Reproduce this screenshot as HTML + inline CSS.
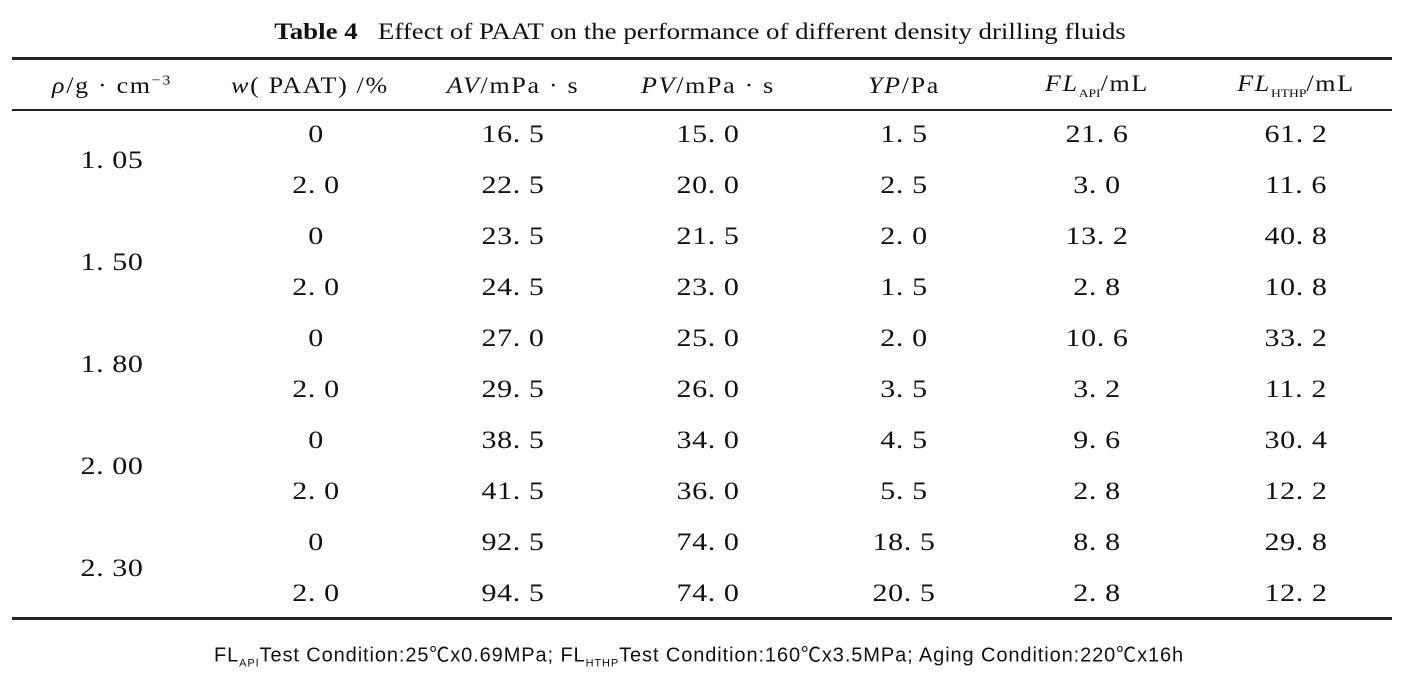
<!DOCTYPE html>
<html><head><meta charset="utf-8"><style>
body{margin:0;width:1414px;height:684px;background:#fff;position:relative;overflow:hidden;font-family:"Liberation Serif",serif;color:#111}
.t{position:absolute;transform:translate(-50%,-50%) scaleX(1.2);white-space:nowrap;font-size:25px;letter-spacing:0.5px}
.h{font-size:23px;letter-spacing:1.5px;transform:translate(-50%,-50%) scaleX(1.13)}
.l{position:absolute;left:12px;width:1380px;background:#222}
i{font-style:italic}
</style></head><body>
<div class="t" style="left:700px;top:32px;font-size:23px;letter-spacing:0;transform:translate(-50%,-50%) scaleX(1.17)"><b>Table 4</b>&nbsp;&nbsp;&nbsp;Effect of PAAT on the performance of different density drilling fluids</div>
<div class="l" style="top:57px;height:3px"></div>
<div class="l" style="top:109px;height:1.5px"></div>
<div class="l" style="top:617px;height:3px"></div>
<div class="t h" style="left:112px;top:86px"><i>ρ</i>/g · cm<sup style="font-size:14px">−3</sup></div>
<div class="t h" style="left:310px;top:86px"><i>w</i>( PAAT) /%</div>
<div class="t h" style="left:513px;top:86px"><i>AV</i>/mPa · s</div>
<div class="t h" style="left:708px;top:86px"><i>PV</i>/mPa · s</div>
<div class="t h" style="left:904px;top:86px"><i>YP</i>/Pa</div>
<div class="t h" style="left:1097px;top:86px"><i>FL</i><sub style="font-size:12px;letter-spacing:0">API</sub>/mL</div>
<div class="t h" style="left:1296px;top:86px"><i>FL</i><sub style="font-size:12px;letter-spacing:0">HTHP</sub>/mL</div>
<div id="rows"></div>
<div class="t" style="left:699px;top:654px;font-family:'Liberation Sans','Noto Sans CJK SC',sans-serif;font-size:20px;letter-spacing:0.9px;transform:translate(-50%,-50%)">FL<sub style="font-size:11px">API</sub>Test Condition:25℃x0.69MPa; FL<sub style="font-size:11px">HTHP</sub>Test Condition:160℃x3.5MPa; Aging Condition:220℃x16h</div>
<script>
var d=[["1. 05","0","16. 5","15. 0","1. 5","21. 6","61. 2"],["","2. 0","22. 5","20. 0","2. 5","3. 0","11. 6"],
["1. 50","0","23. 5","21. 5","2. 0","13. 2","40. 8"],["","2. 0","24. 5","23. 0","1. 5","2. 8","10. 8"],
["1. 80","0","27. 0","25. 0","2. 0","10. 6","33. 2"],["","2. 0","29. 5","26. 0","3. 5","3. 2","11. 2"],
["2. 00","0","38. 5","34. 0","4. 5","9. 6","30. 4"],["","2. 0","41. 5","36. 0","5. 5","2. 8","12. 2"],
["2. 30","0","92. 5","74. 0","18. 5","8. 8","29. 8"],["","2. 0","94. 5","74. 0","20. 5","2. 8","12. 2"]];
var xs=[112,316,513,708,904,1097,1296],h="";
d.forEach(function(r,i){var y=135+i*51;r.forEach(function(c,j){if(!c)return;var yy=j==0?y+26:y;h+='<div class="t" style="left:'+xs[j]+'px;top:'+yy+'px">'+c+'</div>';});});
document.getElementById("rows").innerHTML=h;
</script>
</body></html>
